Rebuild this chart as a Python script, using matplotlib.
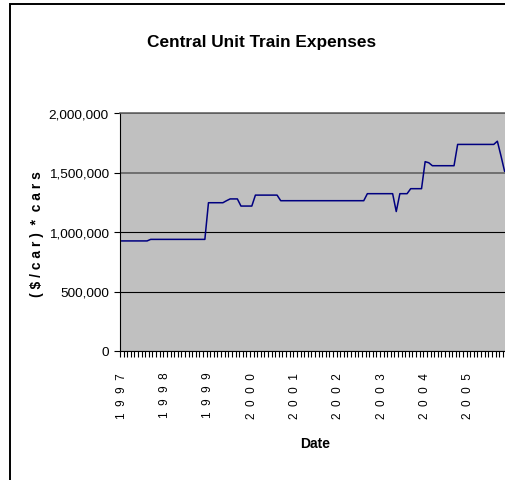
import numpy as np
import matplotlib
matplotlib.use("Agg")
import matplotlib.pyplot as plt
from matplotlib.patches import Rectangle

# monthly expenses, one row per year
expenses = [
    925000, 925000, 925000, 925000, 925000, 925000, 925000, 925000, 938000, 938000, 938000, 938000,
    938000, 938000, 938000, 938000, 938000, 938000, 938000, 938000, 938000, 938000, 938000, 938000,
    1246000, 1246000, 1246000, 1246000, 1246000, 1263000, 1278000, 1278000, 1278000, 1218000, 1218000, 1218000,
    1218000, 1310000, 1310000, 1310000, 1310000, 1310000, 1310000, 1310000, 1263000, 1263000, 1263000, 1263000,
    1263000, 1263000, 1263000, 1263000, 1263000, 1263000, 1263000, 1263000, 1263000, 1263000, 1263000, 1263000,
    1263000, 1263000, 1263000, 1263000, 1263000, 1263000, 1263000, 1263000, 1322000, 1322000, 1322000, 1322000,
    1322000, 1322000, 1322000, 1322000, 1172000, 1322000, 1322000, 1322000, 1364000, 1364000, 1364000, 1364000,
    1591000, 1582000, 1557000, 1557000, 1557000, 1557000, 1557000, 1557000, 1557000, 1736000, 1736000, 1736000,
    1736000, 1736000, 1736000, 1736000, 1736000, 1736000, 1736000, 1736000, 1763000, 1640000, 1510000, 1510000,
]
years = ["1997", "1998", "1999", "2000", "2001", "2002", "2003", "2004", "2005"]
y_ticks = [0, 500000, 1000000, 1500000, 2000000]

plt.rcParams["font.family"] = ["Liberation Sans", "DejaVu Sans"]

fig = plt.figure(figsize=(5.06, 4.81), dpi=100)
# chart area border (the picture is cropped on the right)
fig.patches.append(Rectangle((10 / 506, -0.1), 2, 1.1 - 5 / 481, transform=fig.transFigure,
                             fill=False, edgecolor="black", linewidth=1.4))

ax = fig.add_axes([120 / 506, 129 / 481, 390 / 506, 238 / 481])
ax.set_facecolor("#c0c0c0")

months = np.arange(len(expenses))
ax.plot(months, expenses, color="#000080", linewidth=1.1)

ax.set_xlim(-0.5, len(expenses) - 0.5)
ax.set_ylim(0, 2000000)

# gridlines
ax.set_yticks(y_ticks)
ax.set_yticklabels([f"{v:,}" for v in y_ticks], fontsize=9.7)
ax.grid(axis="y", color="black", linewidth=0.8)
for gl, v in zip(ax.get_ygridlines(), y_ticks):
    if v >= 1500000:
        gl.set_color("#5a5a5a")
        gl.set_linewidth(1.1)
ax.set_axisbelow(True)

# month ticks on category boundaries, year labels every 12 months
ax.set_xticks(np.arange(-0.5, len(expenses), 1))
ax.set_xticklabels([])
ax.set_xticks(np.arange(0, len(expenses), 12)[:len(years)], minor=True)
ax.set_xticklabels(["  ".join(y) for y in years], minor=True, rotation=90,
                   fontsize=8.5, va="top", ha="center")
ax.tick_params(axis="x", which="major", direction="out", length=4.5, width=0.8)
ax.tick_params(axis="x", which="minor", length=0, pad=15)
ax.tick_params(axis="y", direction="out", length=4.5, width=0.8, pad=3.5)

ax.spines["right"].set_visible(False)
ax.spines["top"].set_color("#5a5a5a")
ax.spines["top"].set_linewidth(1.1)
ax.spines["left"].set_linewidth(0.8)
ax.spines["bottom"].set_linewidth(0.8)

fig.text(262 / 506, 1 - 43 / 481, "Central Unit Train Expenses", ha="center", va="center",
         fontsize=12.4, fontweight="bold")
fig.text(37 / 506, 1 - 234 / 481, "( $ / c a r )  *  c a r s", rotation=90, ha="center", va="center",
         fontsize=10, fontweight="bold")
fig.text(315 / 506, 1 - 444 / 481, "Date", ha="center", va="center", fontsize=10, fontweight="bold")

fig.savefig("out.png", dpi=100)
